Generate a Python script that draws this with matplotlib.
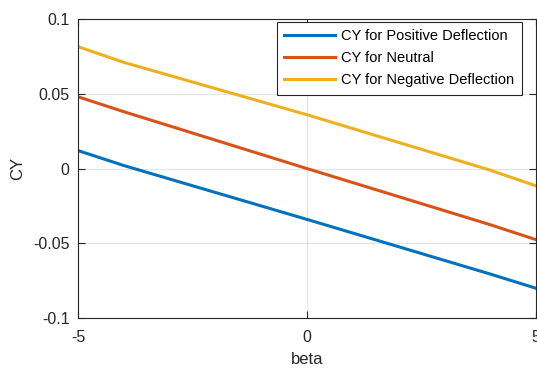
import matplotlib
matplotlib.use("Agg")
import matplotlib.pyplot as plt

beta = [-5, -4, 0, 4, 5]
cy_pos = [0.012, 0.002, -0.034, -0.0705, -0.080]
cy_neu = [0.048, 0.038, 0.0, -0.0375, -0.0475]
cy_neg = [0.0815, 0.071, 0.036, -0.001, -0.0115]

xticks = [-5, 0, 5]
yticks = [-0.1, -0.05, 0, 0.05, 0.1]
ytick_labels = ["-0.1", "-0.05", "0", "0.05", "0.1"]

plt.rcParams["font.family"] = ["Liberation Sans", "DejaVu Sans"]
plt.rcParams["axes.unicode_minus"] = False

fig = plt.figure(figsize=(5.37, 3.71), dpi=100)
ax = fig.add_axes([78 / 537, 53 / 371, 457.5 / 537, 299 / 371])

ax.plot(beta, cy_pos, color="#0072BD", lw=2.2, label="CY for Positive Deflection")
ax.plot(beta, cy_neu, color="#D95319", lw=2.2, label="CY for Neutral")
ax.plot(beta, cy_neg, color="#EDB120", lw=2.2, label="CY for Negative Deflection")

ax.set_xlim(-5, 5)
ax.set_ylim(-0.1, 0.1)
ax.set_xticks(xticks)
ax.set_xticklabels([str(t) for t in xticks])
ax.set_yticks(yticks)
ax.set_yticklabels(ytick_labels)
ax.grid(True, color="#262626", alpha=0.12, lw=0.8)

for s in ax.spines.values():
    s.set_color("#262626")
    s.set_linewidth(0.8)
ax.tick_params(direction="in", top=True, right=True, length=5, width=0.8,
               colors="#262626", labelsize=11.5)
ax.tick_params(axis="x", pad=9)
ax.tick_params(axis="y", pad=6)

ax.set_xlabel("beta", fontsize=12, color="#262626", labelpad=5)
ax.set_ylabel("CY", fontsize=12, color="#262626", labelpad=6)

leg = ax.legend(loc="upper right", bbox_to_anchor=(521.5 / 537, 1 - 22 / 371),
                bbox_transform=fig.transFigure, borderaxespad=0,
                fontsize=10.5, fancybox=False, framealpha=1,
                edgecolor="#262626", handlelength=3.5, borderpad=0.5,
                labelspacing=0.55, handletextpad=0.4)
leg.get_frame().set_linewidth(0.8)

fig.savefig("out.png", dpi=100)
